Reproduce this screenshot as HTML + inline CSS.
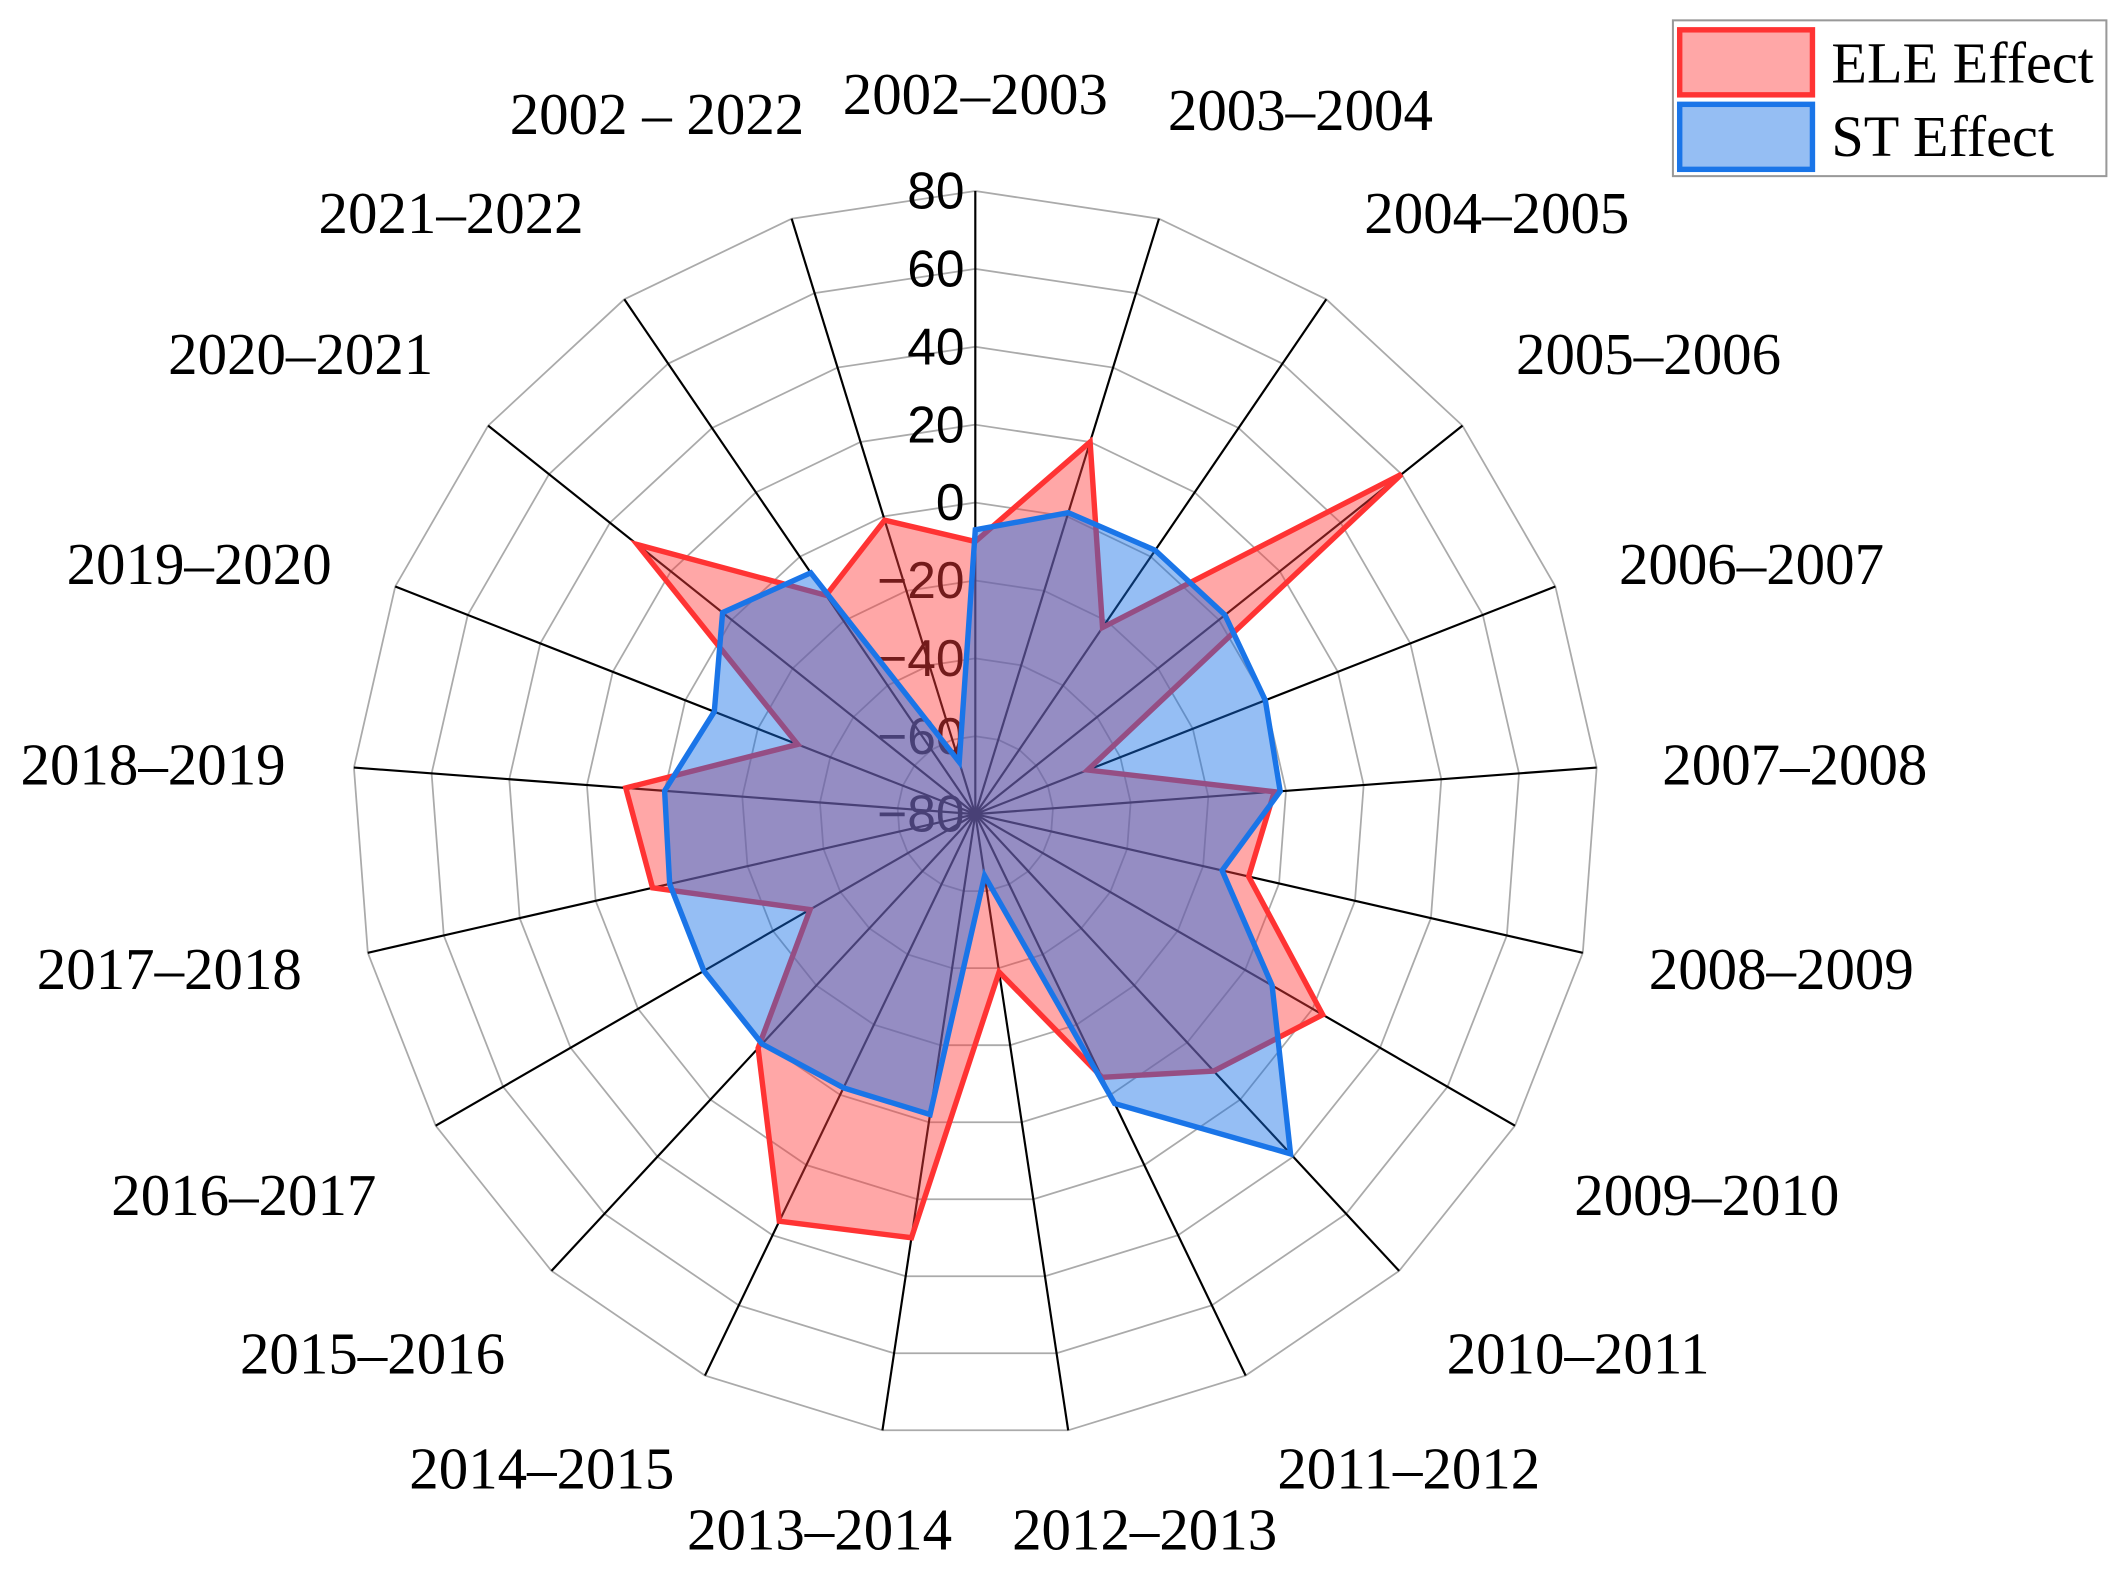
<!DOCTYPE html>
<html><head><meta charset="utf-8"><style>
html,body{margin:0;padding:0;background:#fff;}
svg{display:block;}
</style></head><body>
<svg id="chart" width="2124" height="1573" viewBox="0 0 1568 1161.2" xmlns="http://www.w3.org/2000/svg">
<rect width="1568" height="1161.2" fill="#fff"/>
<g id="grid"></g>
<g id="ticks"></g>
<g id="series"></g>
<g id="cats"></g>
<g>
<rect x="1235" y="15" width="320" height="115" fill="#fff" stroke="#999" stroke-width="1.5"/>
<rect x="1240" y="22" width="98" height="48" fill="#ffa7a7" stroke="#ff3333" stroke-width="4"/>
<text x="1352" y="61" font-family="Liberation Serif, serif" font-size="43">ELE Effect</text>
<rect x="1240" y="77" width="98" height="48" fill="#95bef3" stroke="#1a75e8" stroke-width="4"/>
<text x="1352" y="115" font-family="Liberation Serif, serif" font-size="43">ST Effect</text>
</g>
</svg>
<script>
const categories = ["2002–2003","2003–2004","2004–2005","2005–2006","2006–2007","2007–2008","2008–2009","2009–2010","2010–2011","2011–2012","2012–2013","2013–2014","2014–2015","2015–2016","2016–2017","2017–2018","2018–2019","2019–2020","2020–2021","2021–2022","2002 – 2022"];
const eleValues = [-10,20,-22,60,-49,-3,-8,23,10,-5,-39,30,36,2,-31,5,10,-31,31,-12,-1];
const stValues = [-7,1,2,2,0,-1.5,-15,8,39,2.5,-64,-2,-2,0.5,0.5,0.5,0,-8,3,-5,-66];
const tickValues = [80,60,40,20,0,-20,-40,-60,-80];
const tickLabels = ["80","60","40","20","0","−20","−40","−60","−80"];
const vMin = -80, vMax = 80;

const NS = "http://www.w3.org/2000/svg";
const cx = 720, cy = 601, R = 460;
const N = categories.length;
function ang(i){ return i * 2 * Math.PI / N; }
function rScale(v){ return (v - vMin) / (vMax - vMin) * R; }
function pt(i, v){ const a = ang(i), r = rScale(v); return [cx + r*Math.sin(a), cy - r*Math.cos(a)]; }
function mk(tag, attrs, parent){ const e = document.createElementNS(NS, tag); for (const k in attrs) e.setAttribute(k, attrs[k]); parent.appendChild(e); return e; }

const grid = document.getElementById('grid');
tickValues.forEach(function(t){
  if (t === vMin) return;
  const pts = categories.map(function(c,i){ return pt(i,t).join(','); }).join(' ');
  const ring = mk('polygon', {points: pts, fill: 'none', stroke: '#aaa', 'stroke-width': 1.3}, grid);
  
  
});
categories.forEach(function(c,i){
  const p = pt(i, vMax);
  const s = mk('line', {x1: cx, y1: cy, x2: p[0], y2: p[1], stroke: '#000', 'stroke-width': 1.6}, grid);
  
  
});
const ticks = document.getElementById('ticks');
tickValues.forEach(function(t, k){
  const y = cy - rScale(t) + 13;
  const tx = mk('text', {x: 712, y: y, 'text-anchor': 'end', 'font-family': 'Liberation Sans, sans-serif', 'font-size': 38, fill: '#000'}, ticks);
  tx.textContent = tickLabels[k];
  
  
});
const series = document.getElementById('series');
function polyPts(vals){ return vals.map(function(v,i){ return pt(i,v).join(','); }).join(' '); }
const eleFill = mk('polygon', {points: polyPts(eleValues), fill: 'rgba(255,60,60,0.45)', stroke: 'none'}, series);


const eleLine = mk('polygon', {points: polyPts(eleValues), fill: 'none', stroke: '#ff3333', 'stroke-width': 4, 'stroke-linejoin': 'miter'}, series);


const stFill = mk('polygon', {points: polyPts(stValues), fill: 'rgba(20,110,230,0.45)', stroke: 'none'}, series);


const stLine = mk('polygon', {points: polyPts(stValues), fill: 'none', stroke: '#1a75e8', 'stroke-width': 4, 'stroke-linejoin': 'miter'}, series);


const cats = document.getElementById('cats');
const labelPos = [[720,70],[960,82],[1105,158],[1217,262],[1293,417],[1325,565],[1315,716],[1260,883],[1165,1000],[1040,1085],[845,1130],[605,1130],[400,1085],[275,1000],[180,883],[125,716],[113,565],[147,417],[222,262],[333,158],[485,85]];
categories.forEach(function(c,i){
  const t = mk('text', {x: labelPos[i][0], y: labelPos[i][1] + 14, 'text-anchor': 'middle', 'font-family': 'Liberation Serif, serif', 'font-size': 43.5, fill: '#000'}, cats);
  t.textContent = c;
  
  
});
</script>
</body></html>
